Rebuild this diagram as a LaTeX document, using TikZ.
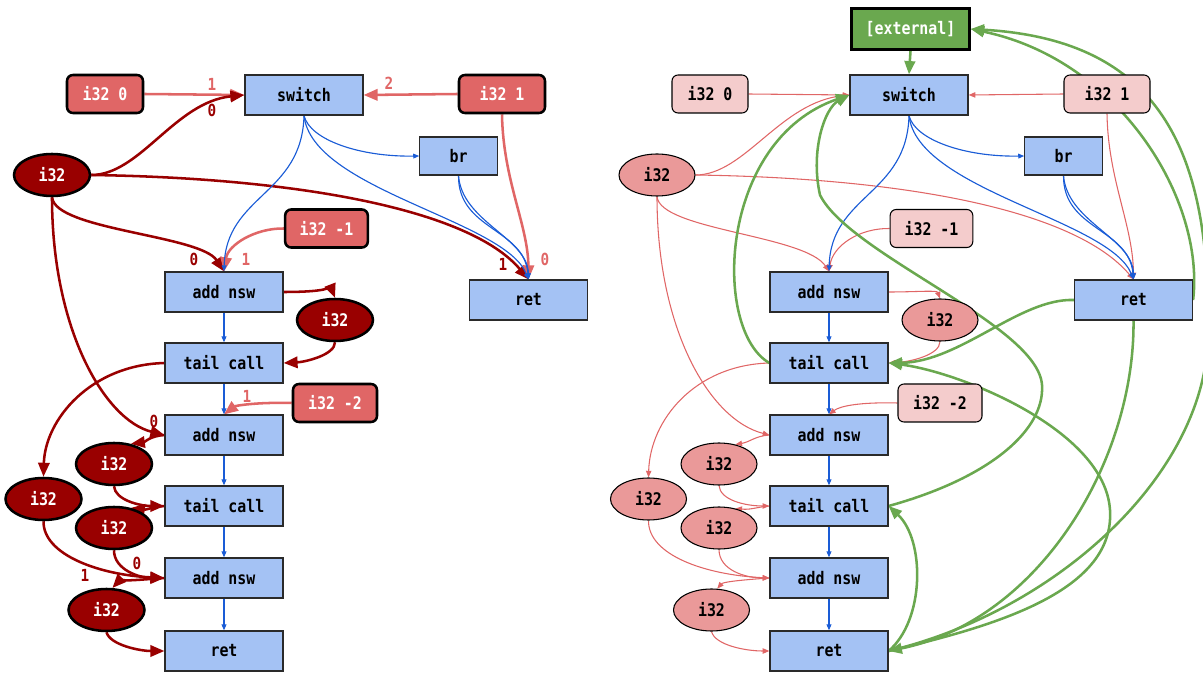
\documentclass[tikz,border=0pt]{standalone}
\usepackage{fontspec}
\newfontfamily\gmono{DejaVu Sans Mono}[FakeStretch=0.86]
\usetikzlibrary{arrows.meta,shapes.geometric}
\definecolor{boxblue}{HTML}{A4C2F4}
\definecolor{boxedge}{HTML}{2A2A2A}
\definecolor{darkred}{HTML}{990000}
\definecolor{lightred}{HTML}{E06666}
\definecolor{pinkfill}{HTML}{F4CCCC}
\definecolor{salmon}{HTML}{EA9999}
\definecolor{ggreen}{HTML}{6AA84F}
\definecolor{flowblue}{HTML}{1A5CD6}
\pgfdeclarelayer{bg}\pgfsetlayers{bg,main}
\tikzset{
  base/.style={font=\gmono\bfseries\fontsize{13}{15}\selectfont, inner sep=0pt},
  op/.style={base, draw=boxedge, line width=0.9pt, fill=boxblue, minimum width=88.5pt, minimum height=30pt, text=black},
  lbl/.style={font=\gmono\bfseries\fontsize{12.5}{14}\selectfont, inner sep=0pt},
  cf/.style={draw=flowblue, line width=0.85pt, -{Triangle[length=4.5pt,width=3.6pt]}},
  gr/.style={draw=ggreen, line width=1.9pt, -{Triangle[length=10pt,width=8pt]}},
  extst/.style={base, draw=black, line width=1.9pt, fill=ggreen, text=white, minimum width=88.5pt, minimum height=31pt},
}
\newcommand\fibgraph[1]{%
  \node[cst,minimum width=57pt] (c0#1) at (105,94) {i32 0};
  \node[op] (sw#1) at (304,95) {switch};
  \node[cst,minimum width=64.5pt] (c1#1) at (502,94) {i32 1};
  \node[op,minimum width=58pt,minimum height=28.5pt] (br#1) at (458.5,156) {br};
  \node[val] (p#1) at (52,175) {i32};
  \node[cst,minimum width=62pt] (m1#1) at (326.5,228.5) {i32 -1};
  \node[op] (a1#1) at (224,292) {add nsw};
  \node[op] (rr#1) at (528.5,300) {ret};
  \node[val] (v1#1) at (335,320) {i32};
  \node[op] (t1#1) at (224,363) {tail call};
  \node[cst,minimum width=63pt] (m2#1) at (335,403) {i32 -2};
  \node[op] (a2#1) at (224,435) {add nsw};
  \node[val] (v2#1) at (114,464) {i32};
  \node[val] (v3#1) at (43.5,499) {i32};
  \node[op] (t2#1) at (224,506) {tail call};
  \node[val] (v4#1) at (114,528) {i32};
  \node[op] (a3#1) at (224,578) {add nsw};
  \node[val] (v5#1) at (106.5,610) {i32};
  \node[op] (rb#1) at (224,651) {ret};
  \begin{pgfonlayer}{bg}
  \draw[dc] (c0#1.east) -- (sw#1.west);
  \draw[dc] (c1#1.west) -- (sw#1.east);
  \draw[dv] (p#1.east) .. controls (140,175) and (175,102) .. (sw#1.west);
  \draw[dv] (p#1.east) .. controls (300,178) and (470,210) .. (rr#1.north);
  \draw[dv] (p#1.south) .. controls (55,230) and (200,235) .. (a1#1.north);
  \draw[dc] (m1#1.west) .. controls (255,228) and (228,245) .. (a1#1.north);
  \draw[dv] (p#1.south) .. controls (52,330) and (105,420) .. (a2#1.west);
  \draw[dv] (a1#1.east) .. controls (312,292) and (332,290) .. (v1#1.north);
  \draw[dv] (v1#1.south) .. controls (335,355) and (305,362) .. (t1#1.east);
  \draw[dv] (t1#1.west) .. controls (90,365) and (45,420) .. (v3#1.north);
  \draw[dc] (m2#1.west) .. controls (255,402) and (235,406) .. (a2#1.north);
  \draw[dv] (a2#1.west) .. controls (150,436) and (145,442) .. (v2#1.50);
  \draw[dv] (v2#1.south) .. controls (115,500) and (140,506) .. (t2#1.west);
  \draw[dv] (t2#1.west) .. controls (152,507) and (146,510) .. (v4#1.50);
  \draw[dv] (v4#1.south) .. controls (114,570) and (140,578) .. (a3#1.west);
  \draw[dv] (v3#1.south) .. controls (43,555) and (100,575) .. (a3#1.west);
  \draw[dv] (a3#1.west) .. controls (135,580) and (118,582) .. (v5#1.75);
  \draw[dv] (v5#1.south) .. controls (110,645) and (140,651) .. (rb#1.west);
  \draw[dc] (c1#1.south) .. controls (503,180) and (528,225) .. (rr#1.north);
  \draw[cf] (sw#1.south) .. controls (310,140) and (360,157) .. (br#1.west);
  \draw[cf] (sw#1.south) .. controls (302,195) and (226,195) .. (a1#1.north);
  \draw[cf] (sw#1.south) .. controls (312,190) and (505,220) .. (rr#1.north);
  \draw[cf] (br#1.south) .. controls (458,230) and (524,228) .. (rr#1.north);
  \draw[cf] (br#1.south) .. controls (462,222) and (528,238) .. (rr#1.north);
  \draw[cf] (a1#1.south) -- (t1#1.north);
  \draw[cf] (t1#1.south) -- (a2#1.north);
  \draw[cf] (a2#1.south) -- (t2#1.north);
  \draw[cf] (t2#1.south) -- (a3#1.north);
  \draw[cf] (a3#1.south) -- (rb#1.north);
  \end{pgfonlayer}
}
\begin{document}
\begin{tikzpicture}[x=0.75pt, y=-0.75pt]
\useasboundingbox (0,0) rectangle (1203,673);
% left graph: data flow
\begin{scope}[
  cst/.style={base, rounded corners=4.5pt, draw=black, line width=1.9pt, fill=lightred, text=white, minimum height=28.5pt},
  val/.style={base, ellipse, draw=black, line width=1.9pt, fill=darkred, text=white, minimum width=57pt, minimum height=31.5pt},
  dc/.style={draw=lightred, line width=1.9pt, -{Triangle[length=10.5pt,width=8.5pt]}},
  dv/.style={draw=darkred, line width=1.9pt, -{Triangle[length=10.5pt,width=8.5pt]}}]
\fibgraph{L}
\node[lbl, text=lightred] (lb1) at (212,84) {1};
\node[lbl, text=darkred] (lb2) at (212,110) {0};
\node[lbl, text=lightred] (lb3) at (389,83) {2};
\node[lbl, text=darkred] (lb4) at (194,259) {0};
\node[lbl, text=lightred] (lb5) at (246,259) {1};
\node[lbl, text=darkred] (lb6) at (503,264) {1};
\node[lbl, text=lightred] (lb7) at (545,259) {0};
\node[lbl, text=darkred] (lb8) at (154,421) {0};
\node[lbl, text=lightred] (lb9) at (247,396) {1};
\node[lbl, text=darkred] (lb10) at (137,563) {0};
\node[lbl, text=darkred] (lb11) at (85,575) {1};
\end{scope}
% right graph: with call edges
\begin{scope}[shift={(605,0)},
  cst/.style={base, rounded corners=4.5pt, draw=black, line width=0.8pt, fill=pinkfill, text=black, minimum height=28.5pt},
  val/.style={base, ellipse, draw=black, line width=0.8pt, fill=salmon, text=black, minimum width=57pt, minimum height=31.5pt},
  dc/.style={draw=lightred, line width=0.8pt, -{Triangle[length=5pt,width=4pt]}},
  dv/.style={draw=lightred, line width=0.8pt, -{Triangle[length=5pt,width=4pt]}}]
\fibgraph{R}
\end{scope}
\node[extst] (ext) at (910.5,29) {[external]};
\begin{pgfonlayer}{bg}
\draw[gr] (ext.south) -- (swR.north);
\draw[gr] (t1R.west) .. controls (712,330) and (718,140) .. (swR.west);
\draw[gr] (t2R.east) .. controls (990,478) and (1045,430) .. (1042,385)
          .. controls (1038,325) and (850,255) .. (820,195)
          .. controls (810,150) and (825,108) .. (swR.west);
\draw[gr] (rrR.west) .. controls (1020,298) and (960,362) .. (t1R.east);
\draw[gr] (rbR.east) .. controls (1000,625) and (1115,590) .. (1110,510)
          .. controls (1105,430) and (960,372) .. (t1R.east);
\draw[gr] (rrR.south) .. controls (1135,460) and (1040,620) .. (rbR.east);
\draw[gr] (rbR.east) .. controls (1060,610) and (1210,470) .. (1208,330)
          .. controls (1210,150) and (1160,40) .. (ext.east);
\draw[gr] (rrR.east) .. controls (1205,200) and (1120,60) .. (ext.east);
\draw[gr] (rbR.east) .. controls (925,620) and (925,540) .. (t2R.east);
\end{pgfonlayer}
\end{tikzpicture}
\end{document}
